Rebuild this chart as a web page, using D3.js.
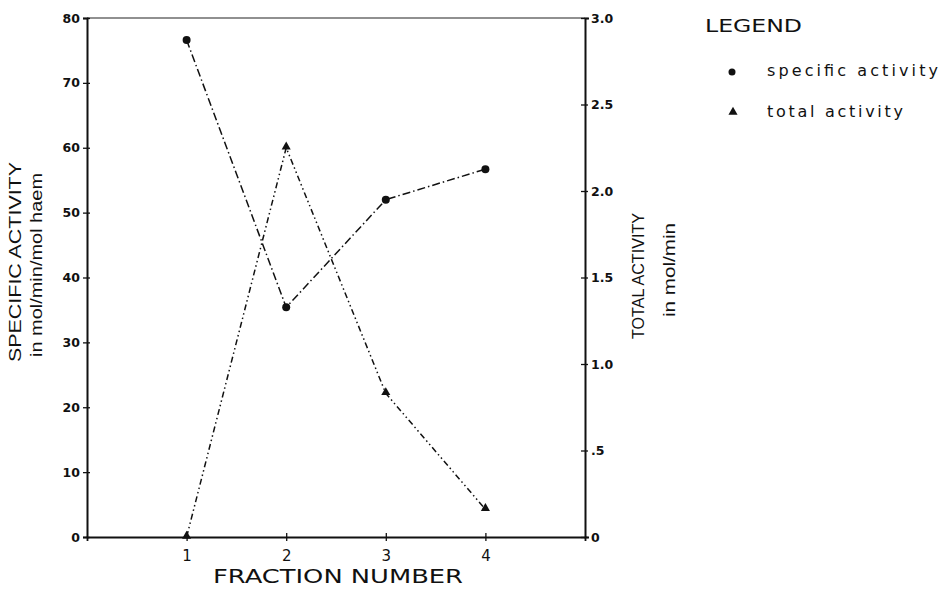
<!DOCTYPE html>
<html>
<head>
<meta charset="utf-8">
<script src="https://cdn.jsdelivr.net/npm/d3@7"></script>
<style>
  body { margin: 0; background: #fff; }
  svg { display: block; }
  text { fill: #111; }
</style>
</head>
<body>
<script>
// data
var fractions = [1, 2, 3, 4];
var specificActivity = [76.6, 35.4, 52.0, 56.7];
var totalActivity = [0, 2.25, 0.83, 0.16];
var leftTicks = [0, 10, 20, 30, 40, 50, 60, 70, 80];
var rightTicks = [0, 0.5, 1.0, 1.5, 2.0, 2.5, 3.0];
var rightTickLabels = ["0", ".5", "1.0", "1.5", "2.0", "2.5", "3.0"];

var width = 944, height = 596;

var svg = d3.select("body")
    .append("svg")
    .attr("width", width)
    .attr("height", height);

// plot box
var box = { left: 87, right: 585, top: 18, bottom: 537 };

var x = d3.scaleLinear().domain([0, 5]).range([box.left, box.right]);
var yL = d3.scaleLinear().domain([0, 80]).range([box.bottom, box.top]);
var yR = d3.scaleLinear().domain([0, 3]).range([box.bottom, box.top]);

var tickFont = "'DejaVu Sans', sans-serif";

// top frame line
svg.append("line")
    .attr("x1", box.left).attr("x2", box.right)
    .attr("y1", box.top).attr("y2", box.top)
    .attr("stroke", "#222").attr("stroke-width", 1.2);

// left axis
var gL = svg.append("g")
    .attr("transform", "translate(" + box.left + ",0)")
    .call(d3.axisLeft(yL).tickValues(leftTicks).tickSize(4).tickFormat(d3.format("d")));
gL.select(".domain").attr("stroke", "#111").attr("stroke-width", 2);
gL.selectAll(".tick line").attr("x2", 3).attr("x1", -4).attr("stroke", "#111").attr("stroke-width", 1.3);
gL.selectAll(".tick text")
    .attr("x", -7)
    .style("font-family", tickFont)
    .style("font-size", "12.5px")
    .style("font-weight", "bold")
    .attr("fill", "#111");

// right axis
var gR = svg.append("g")
    .attr("transform", "translate(" + box.right + ",0)")
    .call(d3.axisRight(yR).tickValues(rightTicks).tickSize(4)
        .tickFormat(function(d, i) { return rightTickLabels[i]; }));
gR.select(".domain").attr("stroke", "#111").attr("stroke-width", 2);
gR.selectAll(".tick line").attr("x1", -4).attr("x2", 3).attr("stroke", "#111").attr("stroke-width", 1.3);
gR.selectAll(".tick text")
    .attr("x", 6)
    .style("font-family", tickFont)
    .style("font-size", "12.5px")
    .style("font-weight", "bold")
    .attr("fill", "#111");

// bottom axis
var gB = svg.append("g")
    .attr("transform", "translate(0," + box.bottom + ")")
    .call(d3.axisBottom(x).tickValues(fractions).tickSize(4).tickFormat(d3.format("d")));
gB.select(".domain").attr("stroke", "#111").attr("stroke-width", 1.8);
gB.selectAll(".tick line").attr("y1", -4).attr("y2", 4).attr("stroke", "#111").attr("stroke-width", 1.3);
gB.selectAll(".tick text")
    .attr("y", 13)
    .style("font-family", tickFont)
    .style("font-size", "15px")
    .attr("fill", "#111");

// axis titles
svg.append("text")
    .attr("x", 338).attr("y", 583)
    .attr("text-anchor", "middle")
    .attr("textLength", 250).attr("lengthAdjust", "spacingAndGlyphs")
    .style("font-family", tickFont).style("font-size", "19px")
    .text("FRACTION NUMBER");

function vtitle(cx, cy, len, size, str) {
    svg.append("text")
        .attr("transform", "translate(" + cx + "," + cy + ") rotate(-90)")
        .attr("text-anchor", "middle")
        .attr("textLength", len).attr("lengthAdjust", "spacingAndGlyphs")
        .style("font-family", "'Liberation Sans', Arial, sans-serif")
        .style("font-size", size + "px")
        .text(str);
}
vtitle(21, 262, 200, 16, "SPECIFIC ACTIVITY");
vtitle(42, 265, 184, 16, "in mol/min/mol haem");
vtitle(644, 276, 126, 16, "TOTAL ACTIVITY");
vtitle(675, 270, 94, 16, "in mol/min");

// lines
var lineSA = d3.line()
    .x(function(d, i) { return x(fractions[i]); })
    .y(function(d) { return yL(d); });
var lineTA = d3.line()
    .x(function(d, i) { return x(fractions[i]); })
    .y(function(d) { return yR(d); });

svg.append("path")
    .datum(specificActivity)
    .attr("d", lineSA)
    .attr("fill", "none")
    .attr("stroke", "#111")
    .attr("stroke-width", 1.5)
    .attr("stroke-dasharray", "8,3,1.5,3");

svg.append("path")
    .datum(totalActivity)
    .attr("d", lineTA)
    .attr("fill", "none")
    .attr("stroke", "#111")
    .attr("stroke-width", 1.5)
    .attr("stroke-dasharray", "6,3,1.5,3,1.5,3");

// markers
var tri = d3.symbol().type(d3.symbolTriangle).size(36);

svg.selectAll(".dot")
    .data(specificActivity)
    .enter().append("circle")
    .attr("class", "dot")
    .attr("cx", function(d, i) { return x(fractions[i]); })
    .attr("cy", function(d) { return yL(d); })
    .attr("r", 4)
    .attr("fill", "#111");

svg.selectAll(".tri")
    .data(totalActivity)
    .enter().append("path")
    .attr("class", "tri")
    .attr("d", tri)
    .attr("transform", function(d, i) {
        return "translate(" + x(fractions[i]) + "," + (yR(d) - 1) + ")";
    })
    .attr("fill", "#111");

// legend
svg.append("text")
    .attr("x", 705).attr("y", 32)
    .attr("textLength", 97).attr("lengthAdjust", "spacingAndGlyphs")
    .style("font-family", tickFont).style("font-size", "18px")
    .text("LEGEND");

svg.append("circle")
    .attr("cx", 732).attr("cy", 72).attr("r", 3.5).attr("fill", "#111");
svg.append("path")
    .attr("d", tri)
    .attr("transform", "translate(733,112)")
    .attr("fill", "#111");

svg.append("text")
    .attr("x", 767).attr("y", 76)
    .attr("textLength", 171).attr("lengthAdjust", "spacing")
    .style("font-family", tickFont).style("font-size", "16px")
    .text("specific activity");
svg.append("text")
    .attr("x", 767).attr("y", 117)
    .attr("textLength", 136).attr("lengthAdjust", "spacing")
    .style("font-family", tickFont).style("font-size", "16px")
    .text("total activity");
</script>
</body>
</html>
